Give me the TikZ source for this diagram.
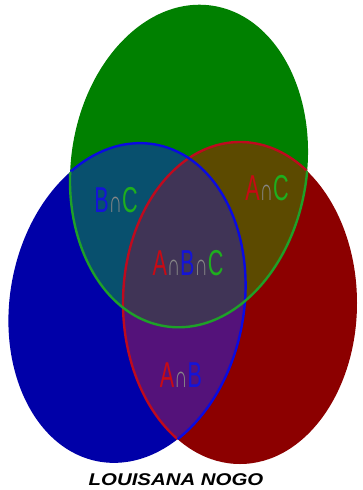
\documentclass[tikz,border=0pt]{standalone}
\usepackage{fontspec}
\setmainfont{Liberation Sans}
\usepackage{tikz}

\definecolor{setA}{RGB}{140,0,0}
\definecolor{setB}{RGB}{0,0,168}
\definecolor{setC}{RGB}{0,128,0}
\definecolor{setAB}{RGB}{84,18,122}
\definecolor{setAC}{RGB}{92,74,0}
\definecolor{setBC}{RGB}{8,80,110}
\definecolor{setABC}{RGB}{64,52,86}
\definecolor{lineA}{RGB}{190,10,30}
\definecolor{lineB}{RGB}{10,10,225}
\definecolor{lineC}{RGB}{30,160,40}
\definecolor{textA}{RGB}{200,10,20}
\definecolor{textB}{RGB}{20,20,215}
\definecolor{textC}{RGB}{30,175,30}
\definecolor{textcap}{RGB}{135,135,135}

\newcommand{\inter}{{\color{textcap}\scalebox{0.85}{∩}}}

\tikzset{
	radA/.style={x radius=117, y radius=161},
	radB/.style={x radius=117, y radius=161, rotate=-10},
	radC/.style={x radius=118, y radius=162, rotate=-8},
	setlabel/.style={font=\fontsize{36}{36}\selectfont, xscale=0.6, inner sep=0pt}
}

\begin{document}
\begin{tikzpicture}[x=1pt, y=-1pt]
	\useasboundingbox (0,0) rectangle (362,490);
	\coordinate (A) at (240,303);
	\coordinate (B) at (127,303);
	\coordinate (C) at (189,166);

	% the three sets
	\fill[setB] (B) ellipse [radB];
	\fill[setA] (A) ellipse [radA];
	\fill[setC] (C) ellipse [radC];

	% pairwise overlaps
	\begin{scope}
		\clip (A) ellipse [radA];
		\fill[setAB] (B) ellipse [radB];
		\fill[setAC] (C) ellipse [radC];
	\end{scope}
	\begin{scope}
		\clip (B) ellipse [radB];
		\fill[setBC] (C) ellipse [radC];
		\clip (A) ellipse [radA];
		\fill[setABC] (C) ellipse [radC];
	\end{scope}

	% borders inside the other sets
	\begin{scope}
		\clip (B) ellipse [radB] (C) ellipse [radC];
		\draw[lineA, line width=2.4pt] (A) ellipse [radA];
	\end{scope}
	\begin{scope}
		\clip (A) ellipse [radA] (C) ellipse [radC];
		\draw[lineB, line width=2.4pt] (B) ellipse [radB];
	\end{scope}
	\begin{scope}
		\clip (A) ellipse [radA] (B) ellipse [radB];
		\draw[lineC, line width=2.4pt] (C) ellipse [radC];
	\end{scope}

	\node[setlabel] (bc) at (116,200) {\color{textB}B\inter\color{textC}C};
	\node[setlabel] (ac) at (267,188) {\color{textA}A\inter\color{textC}C};
	\node[setlabel] (abc) at (188,263) {\color{textA}A\inter\color{textB}B\inter\color{textC}C};
	\node[setlabel] (ab) at (181,375) {\color{textA}A\inter\color{textB}B};

	\node[font=\fontsize{17}{17}\selectfont\bfseries\itshape, xscale=1.2] (author) at (176,480) {LOUISANA NOGO};
\end{tikzpicture}
\end{document}
